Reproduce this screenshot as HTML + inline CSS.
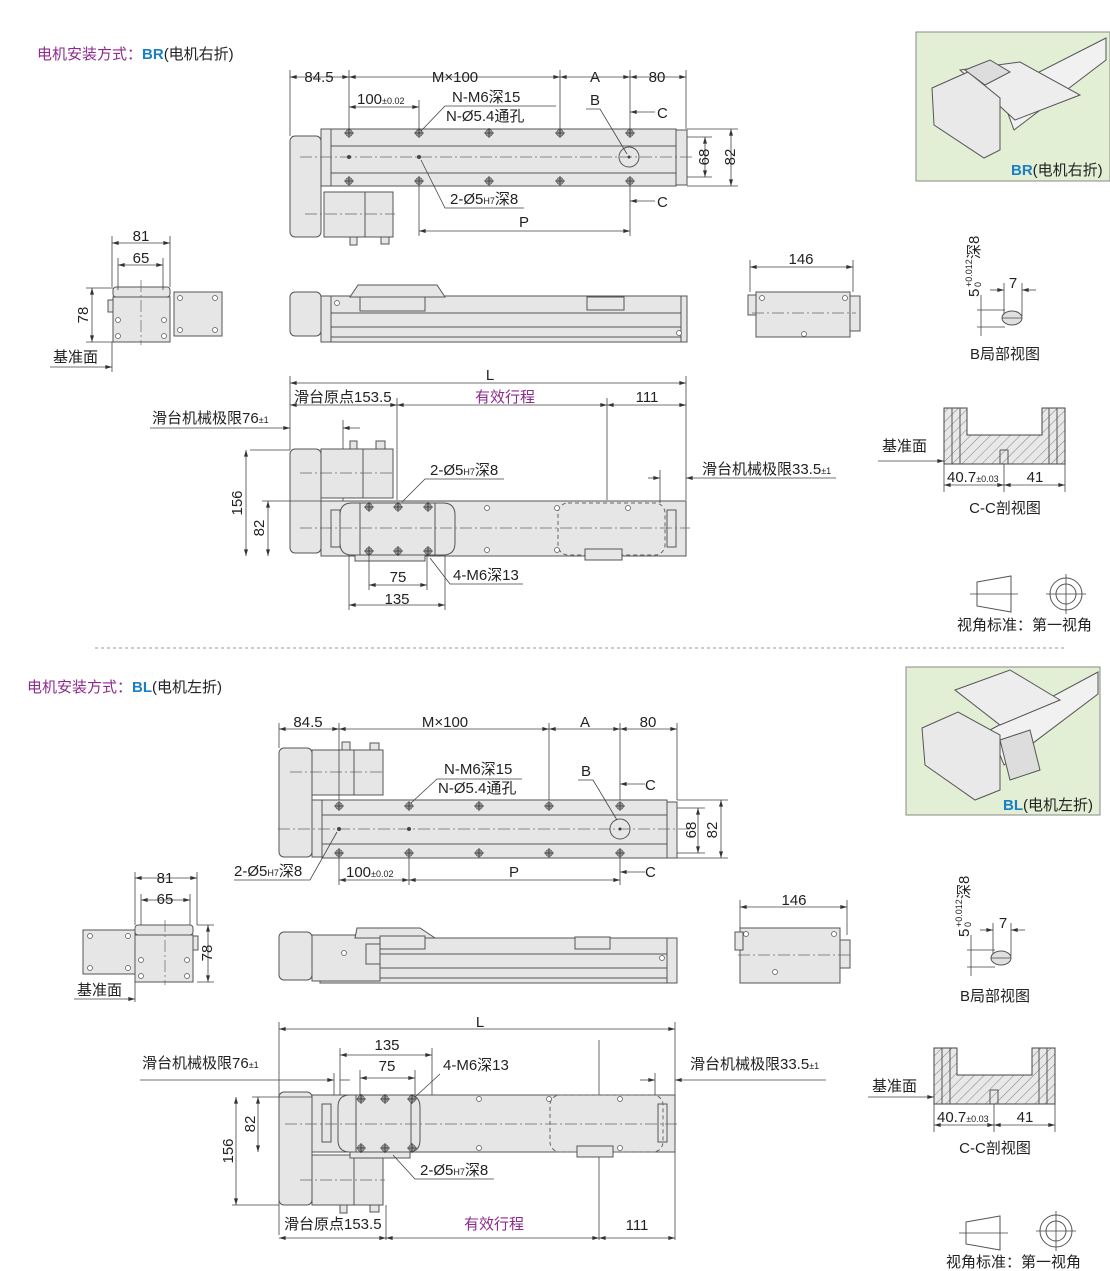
<!DOCTYPE html>
<html><head><meta charset="utf-8"><style>
html,body{margin:0;padding:0;background:#fff;}
svg{display:block;font-family:"Liberation Sans","Noto Sans CJK SC",sans-serif;}
.o{fill:#e6e6e6;stroke:#555;stroke-width:1}
.l{fill:none;stroke:#555;stroke-width:1}
.d{fill:none;stroke:#444;stroke-width:.8}
.c{fill:none;stroke:#666;stroke-width:.7;stroke-dasharray:12 3 2 3}
.t{font-size:15px;fill:#222}
.s{font-size:9px;fill:#222}
.p{font-size:15px;fill:#8e2a8e}
</style></head><body>
<svg width="1110" height="1271" viewBox="0 0 1110 1271">
<defs>
<marker id="a" viewBox="0 0 10 6" refX="10" refY="3" markerWidth="8" markerHeight="4" orient="auto-start-reverse" markerUnits="userSpaceOnUse"><path d="M0,0L10,3L0,6z" fill="#333"/></marker>
<g id="h"><circle r="3.5" fill="#999" stroke="#444" stroke-width=".6"/><path d="M-5,0H5M0,-5V5" stroke="#333" stroke-width=".8"/></g>
<g id="sm"><circle r="2.5" fill="#fff" stroke="#555" stroke-width=".7"/></g>
<pattern id="hat" width="7" height="7" patternUnits="userSpaceOnUse" patternTransform="rotate(45)"><rect width="7" height="7" fill="#e8e8e8"/><line x1="0" y1="0" x2="0" y2="7" stroke="#666" stroke-width=".8"/></pattern>
</defs>

<!-- ============ SECTION BR ============ -->
<text x="37" y="59" style="font-size:15px"><tspan fill="#8e2a8e">电机安装方式：</tspan><tspan fill="#1b7fc4" font-weight="bold">BR</tspan><tspan fill="#222">(电机右折)</tspan></text>

<rect class="o" x="290" y="136" width="31" height="101" rx="5"/>
<rect class="o" x="321" y="129" width="10" height="57"/>
<rect class="o" x="331" y="129" width="345" height="57"/>
<line class="l" x1="331" y1="146" x2="676" y2="146"/><line class="l" x1="331" y1="173" x2="676" y2="173"/>
<rect class="o" x="676" y="130" width="11" height="55"/>
<rect class="o" x="324" y="192" width="69" height="45"/>
<line class="l" x1="365" y1="192" x2="365" y2="237"/>
<rect class="o" x="350" y="237" width="7" height="8"/><rect class="o" x="381" y="237" width="8" height="7"/>
<line class="c" x1="300" y1="157" x2="692" y2="157"/><line class="c" x1="305" y1="214" x2="395" y2="214"/>
<use href="#h" x="349" y="133"/><use href="#h" x="419" y="133"/><use href="#h" x="489" y="133"/><use href="#h" x="560" y="133"/><use href="#h" x="630" y="133"/>
<use href="#h" x="349" y="181"/><use href="#h" x="419" y="181"/><use href="#h" x="489" y="181"/><use href="#h" x="560" y="181"/><use href="#h" x="630" y="181"/>
<circle cx="349" cy="157" r="2" fill="#444"/><circle cx="419" cy="157" r="2" fill="#444"/>
<circle class="l" cx="629" cy="157" r="10"/><circle cx="629" cy="157" r="1.5" fill="#444"/>
<path class="d" d="M290,70V136M349,70V129M560,70V129M630,70V129M686,70V129M419,100V129M419,186V236M630,186V236"/>
<line class="d" x1="290" y1="77" x2="349" y2="77" marker-start="url(#a)" marker-end="url(#a)"/>
<line class="d" x1="349" y1="77" x2="560" y2="77" marker-start="url(#a)" marker-end="url(#a)"/>
<line class="d" x1="560" y1="77" x2="630" y2="77" marker-start="url(#a)" marker-end="url(#a)"/>
<line class="d" x1="630" y1="77" x2="686" y2="77" marker-start="url(#a)" marker-end="url(#a)"/>
<text class="t" x="319" y="82" text-anchor="middle">84.5</text>
<text class="t" x="455" y="82" text-anchor="middle">M×100</text>
<text class="t" x="595" y="82" text-anchor="middle">A</text>
<text class="t" x="657" y="82" text-anchor="middle">80</text>
<line class="d" x1="349" y1="107" x2="419" y2="107" marker-start="url(#a)" marker-end="url(#a)"/>
<text class="t" x="357" y="104">100<tspan font-size="9">±0.02</tspan></text>
<text class="t" x="452" y="102">N-M6深15</text><text class="t" x="446" y="121">N-Ø5.4通孔</text>
<path class="d" d="M556,106H445L421,131"/>
<text class="t" x="590" y="105">B</text><path class="d" d="M586,109H600L627,154"/>
<line class="d" x1="655" y1="112" x2="630" y2="112" marker-end="url(#a)"/><text class="t" x="657" y="118">C</text>
<line class="d" x1="655" y1="201" x2="630" y2="201" marker-end="url(#a)"/><text class="t" x="657" y="207">C</text>
<path class="d" d="M687,137H712M687,177H712M687,129H738M687,186H738"/>
<line class="d" x1="705" y1="137" x2="705" y2="177" marker-start="url(#a)" marker-end="url(#a)"/>
<line class="d" x1="731" y1="129" x2="731" y2="186" marker-start="url(#a)" marker-end="url(#a)"/>
<text class="t" transform="translate(709,157) rotate(-90)" text-anchor="middle">68</text>
<text class="t" transform="translate(735,157) rotate(-90)" text-anchor="middle">82</text>
<text class="t" x="450" y="204">2-Ø5<tspan font-size="9">H7</tspan>深8</text><path class="d" d="M524,208H445L421,160"/>
<line class="d" x1="419" y1="231" x2="630" y2="231" marker-start="url(#a)" marker-end="url(#a)"/>
<text class="t" x="524" y="227" text-anchor="middle">P</text>

<rect class="o" x="290" y="292" width="31" height="44" rx="5"/>
<rect class="o" x="321" y="296" width="366" height="46"/>
<path class="l" d="M331,296V342M331,313H681M331,327H681M331,337H681M681,296V342"/>
<path class="o" d="M350,297L358,285H437L445,297Z"/>
<rect class="o" x="360" y="297" width="65" height="14"/>
<rect class="o" x="587" y="297" width="37" height="13"/>
<use href="#sm" x="337" y="303"/><use href="#sm" x="679" y="333"/>
<rect class="o" x="113" y="287" width="57" height="10" rx="3"/>
<rect class="o" x="113" y="297" width="57" height="45"/>
<rect class="o" x="174" y="292" width="48" height="44"/>
<rect class="o" x="108" y="300" width="5" height="12"/>
<use href="#sm" x="118" y="320"/><use href="#sm" x="118" y="336"/><use href="#sm" x="164" y="320"/><use href="#sm" x="164" y="336"/>
<use href="#sm" x="180" y="298"/><use href="#sm" x="215" y="298"/><use href="#sm" x="180" y="330"/><use href="#sm" x="215" y="330"/>
<line class="c" x1="141" y1="280" x2="141" y2="345"/>
<path class="d" d="M112,236V287M170,236V287M118,258V290M163,258V290M86,288H113M86,342H113M112,342V372"/>
<line class="d" x1="112" y1="243" x2="170" y2="243" marker-start="url(#a)" marker-end="url(#a)"/>
<line class="d" x1="118" y1="265" x2="163" y2="265" marker-start="url(#a)" marker-end="url(#a)"/>
<line class="d" x1="92" y1="288" x2="92" y2="342" marker-start="url(#a)" marker-end="url(#a)"/>
<text class="t" x="141" y="241" text-anchor="middle">81</text><text class="t" x="141" y="263" text-anchor="middle">65</text>
<text class="t" transform="translate(88,315) rotate(-90)" text-anchor="middle">78</text>
<text class="t" x="53" y="362">基准面</text><line class="d" x1="50" y1="367" x2="112" y2="367" marker-end="url(#a)"/>
<rect class="o" x="756" y="292" width="94" height="45"/>
<rect class="o" x="748" y="295" width="8" height="20"/><rect class="o" x="850" y="296" width="10" height="35"/>
<line class="c" x1="752" y1="313" x2="856" y2="313"/>
<use href="#sm" x="762" y="298"/><use href="#sm" x="804" y="334"/><use href="#sm" x="845" y="298"/>
<path class="d" d="M750,260V292M853,260V292"/>
<line class="d" x1="750" y1="267" x2="853" y2="267" marker-start="url(#a)" marker-end="url(#a)"/>
<text class="t" x="801" y="264" text-anchor="middle">146</text>

<path class="d" d="M290,376V450M686,376V500M397,398V500M607,398V500"/>
<line class="d" x1="290" y1="383" x2="686" y2="383" marker-start="url(#a)" marker-end="url(#a)"/>
<text class="t" x="490" y="380" text-anchor="middle">L</text>
<line class="d" x1="290" y1="405" x2="397" y2="405" marker-start="url(#a)" marker-end="url(#a)"/>
<text class="t" x="294" y="402">滑台原点153.5</text>
<line class="d" x1="397" y1="405" x2="607" y2="405" marker-start="url(#a)" marker-end="url(#a)"/>
<text class="p" x="505" y="402" text-anchor="middle">有效行程</text>
<line class="d" x1="607" y1="405" x2="686" y2="405" marker-start="url(#a)" marker-end="url(#a)"/>
<text class="t" x="647" y="402" text-anchor="middle">111</text>
<text class="t" x="152" y="423">滑台机械极限76<tspan font-size="9">±1</tspan></text>
<line class="d" x1="150" y1="428" x2="290" y2="428" marker-end="url(#a)"/><line class="d" x1="360" y1="428" x2="343" y2="428" marker-end="url(#a)"/>
<path class="d" d="M343,420V505"/>
<rect class="o" x="290" y="449" width="31" height="104" rx="5"/>
<rect class="o" x="321" y="449" width="72" height="49"/><line class="l" x1="363" y1="449" x2="363" y2="498"/>
<rect class="o" x="350" y="441" width="7" height="8"/><rect class="o" x="376" y="441" width="9" height="8"/>
<rect class="o" x="321" y="501" width="365" height="55"/>
<rect class="o" x="331" y="510" width="9" height="37"/>
<rect class="o" x="667" y="510" width="9" height="37"/>
<path class="o" d="M352,503H443Q455,503 455,515V543Q455,555 443,555H352Q340,555 340,543V515Q340,503 352,503Z"/>
<path class="l" d="M360,503V555M435,503V555"/>
<rect x="558" y="503" width="107" height="52" rx="10" fill="none" stroke="#666" stroke-dasharray="4 3"/>
<rect class="o" x="585" y="549" width="37" height="11"/>
<rect class="o" x="355" y="555" width="70" height="6"/>
<use href="#h" x="369" y="507"/><use href="#h" x="398" y="507"/><use href="#h" x="428" y="507"/>
<use href="#h" x="369" y="551"/><use href="#h" x="398" y="551"/><use href="#h" x="428" y="551"/>
<use href="#sm" x="487" y="508"/><use href="#sm" x="487" y="550"/><use href="#sm" x="557" y="508"/><use href="#sm" x="628" y="508"/><use href="#sm" x="557" y="550"/>
<line class="c" x1="300" y1="528" x2="690" y2="528"/><line class="c" x1="300" y1="473" x2="395" y2="473"/>
<path class="d" d="M250,450H290M262,501H321M369,555V590M427,555V590M349,555V610M445,555V610M660,470V503"/>
<line class="d" x1="246" y1="450" x2="246" y2="556" marker-start="url(#a)" marker-end="url(#a)"/>
<line class="d" x1="268" y1="501" x2="268" y2="556" marker-start="url(#a)" marker-end="url(#a)"/>
<text class="t" transform="translate(242,503) rotate(-90)" text-anchor="middle">156</text>
<text class="t" transform="translate(264,528) rotate(-90)" text-anchor="middle">82</text>
<line class="d" x1="369" y1="585" x2="427" y2="585" marker-start="url(#a)" marker-end="url(#a)"/>
<text class="t" x="398" y="582" text-anchor="middle">75</text>
<line class="d" x1="349" y1="605" x2="445" y2="605" marker-start="url(#a)" marker-end="url(#a)"/>
<text class="t" x="397" y="604" text-anchor="middle">135</text>
<text class="t" x="453" y="580">4-M6深13</text><path class="d" d="M523,584H450L430,558"/>
<text class="t" x="430" y="475">2-Ø5<tspan font-size="9">H7</tspan>深8</text><path class="d" d="M504,479H425L402,502"/>
<text class="t" x="702" y="474">滑台机械极限33.5<tspan font-size="9">±1</tspan></text>
<line class="d" x1="648" y1="478" x2="660" y2="478" marker-end="url(#a)"/><line class="d" x1="836" y1="478" x2="686" y2="478" marker-end="url(#a)"/>

<g transform="translate(979,297) rotate(-90)">
<text class="t" x="0" y="0">5</text><text class="s" x="10" y="-7">+0.012</text><text class="s" x="10" y="2">0</text><text class="t" x="38" y="0">深8</text></g>
<path class="d" d="M981,295V336M977,310H1005M977,327H1005M1004,283V316M1022,283V316"/>
<line class="d" x1="990" y1="290" x2="1004" y2="290" marker-end="url(#a)"/><line class="d" x1="1036" y1="290" x2="1022" y2="290" marker-end="url(#a)"/>
<text class="t" x="1013" y="288" text-anchor="middle">7</text>
<ellipse cx="1012" cy="318" rx="10" ry="7" fill="#e0e0e0" stroke="#555"/>
<line class="d" x1="1002" y1="318" x2="1022" y2="318"/>
<text class="t" x="1005" y="359" text-anchor="middle">B局部视图</text>
<path d="M944,408H967V435H1042V408H1065V464H944Z" fill="url(#hat)" stroke="#444"/>
<path class="l" d="M952,408V464M960,408V464M1049,408V464M1057,408V464M1000,450H1008V464M1000,450V464"/>
<text class="t" x="882" y="451">基准面</text><line class="d" x1="878" y1="461" x2="944" y2="461" marker-end="url(#a)"/>
<path class="d" d="M944,464V492M1004,464V492M1065,464V492"/>
<line class="d" x1="944" y1="485" x2="1004" y2="485" marker-start="url(#a)" marker-end="url(#a)"/>
<line class="d" x1="1004" y1="485" x2="1065" y2="485" marker-start="url(#a)" marker-end="url(#a)"/>
<text class="t" x="947" y="482">40.7<tspan font-size="9">±0.03</tspan></text><text class="t" x="1035" y="482" text-anchor="middle">41</text>
<text class="t" x="1005" y="513" text-anchor="middle">C-C剖视图</text>
<path class="l" d="M977,582L1011,576V612L977,606Z"/><path class="d" d="M970,594H1018"/>
<circle class="l" cx="1066" cy="594" r="16"/><circle class="l" cx="1066" cy="594" r="10"/><path class="d" d="M1046,594H1086M1066,574V614"/>
<text class="t" x="957" y="630">视角标准：第一视角</text>

<rect x="916" y="32" width="194" height="149" fill="#e3efd5" stroke="#888"/>
<path d="M1000,92L1106,38V60L1014,130Z" fill="#f1f1f1" stroke="#555"/>
<path d="M960,70L1020,62L1080,95L1015,120Z" fill="#ededed" stroke="#555"/>
<path d="M932,88L968,72L1000,98L1000,150L984,158L934,125Z" fill="#e9e9e9" stroke="#555"/>
<path d="M965,70L990,60L1010,72L985,85Z" fill="#ddd" stroke="#555"/>
<text x="1011" y="175" style="font-size:15px"><tspan fill="#1b7fc4" font-weight="bold">BR</tspan><tspan fill="#222">(电机右折)</tspan></text>

<line x1="95" y1="648" x2="1065" y2="648" stroke="#999" stroke-dasharray="3 3"/>

<!-- ============ SECTION BL ============ -->
<text x="27" y="692" style="font-size:15px"><tspan fill="#8e2a8e">电机安装方式：</tspan><tspan fill="#1b7fc4" font-weight="bold">BL</tspan><tspan fill="#222">(电机左折)</tspan></text>

<rect class="o" x="279" y="748" width="33" height="109" rx="5"/>
<rect class="o" x="312" y="800" width="10" height="57"/>
<rect class="o" x="322" y="800" width="345" height="58"/>
<line class="l" x1="322" y1="815" x2="667" y2="815"/><line class="l" x1="322" y1="844" x2="667" y2="844"/>
<rect class="o" x="667" y="802" width="10" height="56"/>
<rect class="o" x="312" y="750" width="71" height="45"/><line class="l" x1="354" y1="750" x2="354" y2="795"/>
<rect class="o" x="342" y="742" width="8" height="8"/><rect class="o" x="370" y="743" width="9" height="7"/>
<line class="c" x1="278" y1="829" x2="690" y2="829"/><line class="c" x1="290" y1="772" x2="385" y2="772"/>
<use href="#h" x="339" y="806"/><use href="#h" x="409" y="806"/><use href="#h" x="479" y="806"/><use href="#h" x="549" y="806"/><use href="#h" x="620" y="806"/>
<use href="#h" x="339" y="853"/><use href="#h" x="409" y="853"/><use href="#h" x="479" y="853"/><use href="#h" x="549" y="853"/><use href="#h" x="620" y="853"/>
<circle cx="339" cy="829" r="2" fill="#444"/><circle cx="409" cy="829" r="2" fill="#444"/>
<circle class="l" cx="620" cy="829" r="10"/><circle cx="620" cy="829" r="1.5" fill="#444"/>
<path class="d" d="M279,723V748M339,723V800M549,723V800M620,723V800M677,723V800M339,858V885M409,858V885M620,858V885"/>
<line class="d" x1="279" y1="729" x2="339" y2="729" marker-start="url(#a)" marker-end="url(#a)"/>
<line class="d" x1="339" y1="729" x2="549" y2="729" marker-start="url(#a)" marker-end="url(#a)"/>
<line class="d" x1="549" y1="729" x2="620" y2="729" marker-start="url(#a)" marker-end="url(#a)"/>
<line class="d" x1="620" y1="729" x2="677" y2="729" marker-start="url(#a)" marker-end="url(#a)"/>
<text class="t" x="308" y="727" text-anchor="middle">84.5</text>
<text class="t" x="445" y="727" text-anchor="middle">M×100</text>
<text class="t" x="585" y="727" text-anchor="middle">A</text>
<text class="t" x="648" y="727" text-anchor="middle">80</text>
<text class="t" x="444" y="774">N-M6深15</text><text class="t" x="438" y="793">N-Ø5.4通孔</text>
<path class="d" d="M522,779H437L411,803"/>
<text class="t" x="581" y="776">B</text><path class="d" d="M578,780H593L617,820"/>
<line class="d" x1="645" y1="784" x2="620" y2="784" marker-end="url(#a)"/><text class="t" x="645" y="790">C</text>
<line class="d" x1="645" y1="872" x2="620" y2="872" marker-end="url(#a)"/><text class="t" x="645" y="877">C</text>
<path class="d" d="M677,808H705M677,853H705M677,800H728M677,858H728"/>
<line class="d" x1="698" y1="808" x2="698" y2="853" marker-start="url(#a)" marker-end="url(#a)"/>
<line class="d" x1="721" y1="800" x2="721" y2="858" marker-start="url(#a)" marker-end="url(#a)"/>
<text class="t" transform="translate(696,830) rotate(-90)" text-anchor="middle">68</text>
<text class="t" transform="translate(717,830) rotate(-90)" text-anchor="middle">82</text>
<text class="t" x="234" y="876">2-Ø5<tspan font-size="9">H7</tspan>深8</text><path class="d" d="M234,880H310L337,832"/>
<line class="d" x1="339" y1="880" x2="409" y2="880" marker-start="url(#a)" marker-end="url(#a)"/>
<text class="t" x="346" y="877">100<tspan font-size="9">±0.02</tspan></text>
<line class="d" x1="409" y1="880" x2="620" y2="880" marker-start="url(#a)" marker-end="url(#a)"/>
<text class="t" x="514" y="877" text-anchor="middle">P</text>

<rect class="o" x="279" y="932" width="33" height="48" rx="5"/>
<rect class="o" x="320" y="938" width="357" height="45"/>
<path class="l" d="M380,954H667M380,968H667M380,978H667M667,938V983"/>
<rect class="o" x="312" y="935" width="68" height="46"/>
<path class="o" d="M355,938L357,928H420L435,938Z"/>
<rect class="o" x="380" y="936" width="45" height="13"/>
<rect class="o" x="575" y="937" width="35" height="12"/>
<rect class="o" x="366" y="944" width="14" height="20"/>
<use href="#sm" x="344" y="953"/><use href="#sm" x="662" y="958"/>
<rect class="o" x="83" y="930" width="52" height="44"/>
<rect class="o" x="135" y="925" width="58" height="10" rx="3"/>
<rect class="o" x="135" y="935" width="58" height="47"/>
<rect class="o" x="193" y="936" width="5" height="14"/>
<use href="#sm" x="90" y="936"/><use href="#sm" x="128" y="936"/><use href="#sm" x="90" y="968"/><use href="#sm" x="128" y="968"/>
<use href="#sm" x="141" y="960"/><use href="#sm" x="141" y="976"/><use href="#sm" x="187" y="960"/><use href="#sm" x="187" y="976"/>
<line class="c" x1="165" y1="920" x2="165" y2="985"/>
<path class="d" d="M135,872V925M197,872V925M141,894V925M190,894V925M197,925H214M197,982H214M135,982V1002"/>
<line class="d" x1="135" y1="878" x2="197" y2="878" marker-start="url(#a)" marker-end="url(#a)"/>
<line class="d" x1="141" y1="900" x2="190" y2="900" marker-start="url(#a)" marker-end="url(#a)"/>
<line class="d" x1="208" y1="925" x2="208" y2="982" marker-start="url(#a)" marker-end="url(#a)"/>
<text class="t" x="165" y="883" text-anchor="middle">81</text><text class="t" x="165" y="904" text-anchor="middle">65</text>
<text class="t" transform="translate(212,953) rotate(-90)" text-anchor="middle">78</text>
<text class="t" x="77" y="995">基准面</text><line class="d" x1="74" y1="999" x2="135" y2="999" marker-end="url(#a)"/>
<rect class="o" x="740" y="928" width="100" height="55"/>
<rect class="o" x="735" y="932" width="8" height="18"/><rect class="o" x="840" y="940" width="10" height="28"/>
<line class="c" x1="738" y1="955" x2="850" y2="955"/>
<use href="#sm" x="746" y="934"/><use href="#sm" x="775" y="972"/><use href="#sm" x="834" y="934"/>
<path class="d" d="M740,900V928M847,900V935"/>
<line class="d" x1="740" y1="907" x2="847" y2="907" marker-start="url(#a)" marker-end="url(#a)"/>
<text class="t" x="794" y="905" text-anchor="middle">146</text>

<path class="d" d="M279,1022V1235M675,1022V1240M386,1205V1240M599,1040V1240"/>
<line class="d" x1="279" y1="1029" x2="675" y2="1029" marker-start="url(#a)" marker-end="url(#a)"/>
<text class="t" x="480" y="1027" text-anchor="middle">L</text>
<rect class="o" x="279" y="1092" width="33" height="113" rx="5"/>
<rect class="o" x="312" y="1155" width="71" height="50"/><line class="l" x1="354" y1="1155" x2="354" y2="1205"/>
<rect class="o" x="340" y="1205" width="7" height="8"/><rect class="o" x="370" y="1205" width="9" height="7"/>
<rect class="o" x="312" y="1095" width="363" height="57"/>
<rect class="o" x="322" y="1104" width="9" height="38"/><rect class="o" x="658" y="1104" width="9" height="38"/>
<path class="o" d="M350,1095H408Q420,1095 420,1107V1140Q420,1152 408,1152H350Q338,1152 338,1140V1107Q338,1095 350,1095Z"/>
<path class="l" d="M356,1095V1152M411,1095V1152"/>
<rect x="550" y="1095" width="113" height="57" rx="10" fill="none" stroke="#666" stroke-dasharray="4 3"/>
<rect class="o" x="577" y="1146" width="36" height="11"/><rect class="o" x="350" y="1152" width="60" height="6"/>
<use href="#h" x="361" y="1099"/><use href="#h" x="385" y="1099"/><use href="#h" x="412" y="1099"/>
<use href="#h" x="361" y="1148"/><use href="#h" x="385" y="1148"/><use href="#h" x="412" y="1148"/>
<use href="#sm" x="479" y="1099"/><use href="#sm" x="479" y="1148"/><use href="#sm" x="549" y="1099"/><use href="#sm" x="620" y="1099"/><use href="#sm" x="620" y="1148"/>
<line class="c" x1="285" y1="1124" x2="680" y2="1124"/><line class="c" x1="300" y1="1180" x2="385" y2="1180"/>
<path class="d" d="M232,1205H279M252,1097H312M340,1048V1095M432,1048V1095M360,1070V1095M415,1070V1095M334,1073V1095M655,1073V1095"/>
<line class="d" x1="236" y1="1097" x2="236" y2="1205" marker-start="url(#a)" marker-end="url(#a)"/>
<line class="d" x1="258" y1="1097" x2="258" y2="1152" marker-start="url(#a)" marker-end="url(#a)"/>
<text class="t" transform="translate(233,1151) rotate(-90)" text-anchor="middle">156</text>
<text class="t" transform="translate(255,1124) rotate(-90)" text-anchor="middle">82</text>
<line class="d" x1="340" y1="1055" x2="432" y2="1055" marker-start="url(#a)" marker-end="url(#a)"/>
<text class="t" x="387" y="1050" text-anchor="middle">135</text>
<line class="d" x1="360" y1="1078" x2="415" y2="1078" marker-start="url(#a)" marker-end="url(#a)"/>
<text class="t" x="387" y="1071" text-anchor="middle">75</text>
<text class="t" x="443" y="1070">4-M6深13</text><path class="d" d="M440,1074L415,1097"/>
<text class="t" x="142" y="1068">滑台机械极限76<tspan font-size="9">±1</tspan></text>
<line class="d" x1="140" y1="1080" x2="334" y2="1080" marker-end="url(#a)"/><line class="d" x1="350" y1="1080" x2="340" y2="1080"/>
<text class="t" x="690" y="1069">滑台机械极限33.5<tspan font-size="9">±1</tspan></text>
<line class="d" x1="640" y1="1080" x2="655" y2="1080" marker-end="url(#a)"/><line class="d" x1="826" y1="1080" x2="675" y2="1080" marker-end="url(#a)"/>
<text class="t" x="420" y="1175">2-Ø5<tspan font-size="9">H7</tspan>深8</text><path class="d" d="M494,1179H415L393,1155"/>
<line class="d" x1="279" y1="1238" x2="386" y2="1238" marker-start="url(#a)" marker-end="url(#a)"/>
<text class="t" x="284" y="1229">滑台原点153.5</text>
<line class="d" x1="386" y1="1238" x2="599" y2="1238" marker-start="url(#a)" marker-end="url(#a)"/>
<text class="p" x="494" y="1229" text-anchor="middle">有效行程</text>
<line class="d" x1="599" y1="1238" x2="675" y2="1238" marker-start="url(#a)" marker-end="url(#a)"/>
<text class="t" x="637" y="1230" text-anchor="middle">111</text>

<g transform="translate(969,937) rotate(-90)">
<text class="t" x="0" y="0">5</text><text class="s" x="10" y="-7">+0.012</text><text class="s" x="10" y="2">0</text><text class="t" x="38" y="0">深8</text></g>
<path class="d" d="M971,935V976M967,950H995M967,967H995M993,923V956M1011,923V956"/>
<line class="d" x1="980" y1="930" x2="993" y2="930" marker-end="url(#a)"/><line class="d" x1="1025" y1="930" x2="1011" y2="930" marker-end="url(#a)"/>
<text class="t" x="1003" y="928" text-anchor="middle">7</text>
<ellipse cx="1001" cy="958" rx="10" ry="7" fill="#e0e0e0" stroke="#555"/><line class="d" x1="991" y1="958" x2="1011" y2="958"/>
<text class="t" x="995" y="1001" text-anchor="middle">B局部视图</text>
<path d="M934,1048H957V1075H1032V1048H1055V1104H934Z" fill="url(#hat)" stroke="#444"/>
<path class="l" d="M942,1048V1104M950,1048V1104M1039,1048V1104M1047,1048V1104M990,1090H998V1104M990,1090V1104"/>
<text class="t" x="872" y="1091">基准面</text><line class="d" x1="868" y1="1097" x2="934" y2="1097" marker-end="url(#a)"/>
<path class="d" d="M934,1104V1132M994,1104V1132M1055,1104V1132"/>
<line class="d" x1="934" y1="1125" x2="994" y2="1125" marker-start="url(#a)" marker-end="url(#a)"/>
<line class="d" x1="994" y1="1125" x2="1055" y2="1125" marker-start="url(#a)" marker-end="url(#a)"/>
<text class="t" x="937" y="1122">40.7<tspan font-size="9">±0.03</tspan></text><text class="t" x="1025" y="1122" text-anchor="middle">41</text>
<text class="t" x="995" y="1153" text-anchor="middle">C-C剖视图</text>
<path class="l" d="M966,1222L1000,1216V1250L966,1244Z"/><path class="d" d="M959,1233H1008"/>
<circle class="l" cx="1056" cy="1231" r="16"/><circle class="l" cx="1056" cy="1231" r="10"/><path class="d" d="M1036,1231H1076M1056,1211V1251"/>
<text class="t" x="946" y="1267">视角标准：第一视角</text>

<rect x="906" y="667" width="194" height="148" fill="#e3efd5" stroke="#888"/>
<path d="M990,730L1098,672V694L1004,765Z" fill="#f1f1f1" stroke="#555"/>
<path d="M955,690L1010,670L1060,700L1000,725Z" fill="#ededed" stroke="#555"/>
<path d="M922,728L958,712L1000,735L1000,790L975,800L925,765Z" fill="#e9e9e9" stroke="#555"/>
<path d="M1000,740L1030,730L1040,770L1010,780Z" fill="#ddd" stroke="#555"/>
<text x="1003" y="810" style="font-size:15px"><tspan fill="#1b7fc4" font-weight="bold">BL</tspan><tspan fill="#222">(电机左折)</tspan></text>
</svg>
</body></html>
